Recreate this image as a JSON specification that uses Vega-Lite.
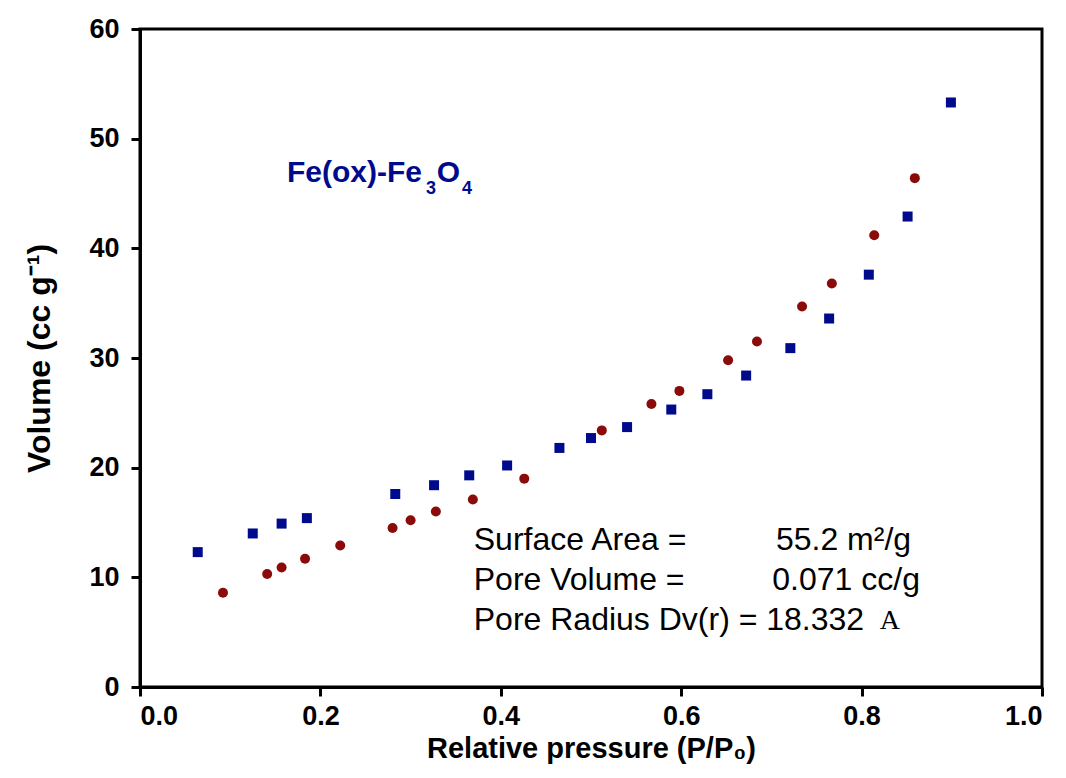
{
  "$schema": "https://vega.github.io/schema/vega-lite/v6.json",
  "width": 902,
  "height": 658,
  "autosize": {"type": "none"},
  "padding": {"left": 140, "top": 29, "right": 24, "bottom": 91},
  "background": "white",
  "config": {
    "view": {"stroke": "black", "strokeWidth": 3},
    "axis": {
      "domainColor": "black", "domainWidth": 3, "tickColor": "black", "tickWidth": 3, "tickSize": 9,
      "grid": false, "labelFont": "Liberation Sans", "labelFontWeight": "bold", "labelFontSize": 27, "labelColor": "black",
      "titleFont": "Liberation Sans", "titleFontWeight": "bold", "titleFontSize": 29, "titleColor": "black"
    }
  },
  "datasets": {
    "iso": [
      {"p": 0.064, "v": 12.3, "s": "ads"}, {"p": 0.125, "v": 14.0, "s": "ads"}, {"p": 0.157, "v": 14.9, "s": "ads"},
      {"p": 0.185, "v": 15.4, "s": "ads"}, {"p": 0.283, "v": 17.6, "s": "ads"}, {"p": 0.326, "v": 18.4, "s": "ads"},
      {"p": 0.365, "v": 19.3, "s": "ads"}, {"p": 0.407, "v": 20.2, "s": "ads"}, {"p": 0.465, "v": 21.8, "s": "ads"},
      {"p": 0.500, "v": 22.7, "s": "ads"}, {"p": 0.540, "v": 23.7, "s": "ads"}, {"p": 0.589, "v": 25.3, "s": "ads"},
      {"p": 0.629, "v": 26.7, "s": "ads"}, {"p": 0.672, "v": 28.4, "s": "ads"}, {"p": 0.721, "v": 30.9, "s": "ads"},
      {"p": 0.764, "v": 33.6, "s": "ads"}, {"p": 0.808, "v": 37.6, "s": "ads"}, {"p": 0.851, "v": 42.9, "s": "ads"},
      {"p": 0.899, "v": 53.3, "s": "ads"},
      {"p": 0.092, "v": 8.6, "s": "des"}, {"p": 0.141, "v": 10.3, "s": "des"}, {"p": 0.157, "v": 10.9, "s": "des"},
      {"p": 0.183, "v": 11.7, "s": "des"}, {"p": 0.222, "v": 12.9, "s": "des"}, {"p": 0.280, "v": 14.5, "s": "des"},
      {"p": 0.300, "v": 15.2, "s": "des"}, {"p": 0.328, "v": 16.0, "s": "des"}, {"p": 0.369, "v": 17.1, "s": "des"},
      {"p": 0.426, "v": 19.0, "s": "des"}, {"p": 0.512, "v": 23.4, "s": "des"}, {"p": 0.567, "v": 25.8, "s": "des"},
      {"p": 0.598, "v": 27.0, "s": "des"}, {"p": 0.652, "v": 29.8, "s": "des"}, {"p": 0.684, "v": 31.5, "s": "des"},
      {"p": 0.734, "v": 34.7, "s": "des"}, {"p": 0.767, "v": 36.8, "s": "des"}, {"p": 0.814, "v": 41.2, "s": "des"},
      {"p": 0.859, "v": 46.4, "s": "des"}
    ],
    "labels": [
      {"p": 0.37, "v": 13.4, "t": "Surface Area ="},
      {"p": 0.37, "v": 9.75, "t": "Pore Volume ="},
      {"p": 0.37, "v": 6.1, "t": "Pore Radius Dv(r) = 18.332"},
      {"p": 0.705, "v": 13.4, "t": "55.2 m²/g"},
      {"p": 0.701, "v": 9.75, "t": "0.071 cc/g"}
    ],
    "title_big": [
      {"p": 0.163, "v": 46.05, "t": "Fe(ox)-Fe"},
      {"p": 0.329, "v": 46.05, "t": "O"}
    ],
    "title_small": [
      {"p": 0.317, "v": 45.0, "t": "3"},
      {"p": 0.357, "v": 45.0, "t": "4"}
    ]
  },
  "layer": [
    {
      "data": {"name": "iso"},
      "transform": [{"filter": "datum.s === 'ads'"}],
      "mark": {"type": "square", "filled": true, "color": "#000a8c", "size": 100, "opacity": 1},
      "encoding": {
        "x": {"field": "p", "type": "quantitative", "scale": {"domain": [0, 1]},
              "axis": {"values": [0, 0.2, 0.4, 0.6, 0.8, 1.0], "format": ".1f", "title": "Relative pressure (P/P₀)", "titlePadding": 5, "labelPadding": 7}},
        "y": {"field": "v", "type": "quantitative", "scale": {"domain": [0, 60]},
              "axis": {"values": [0, 10, 20, 30, 40, 50, 60], "title": "Volume (cc g⁻¹)", "titleFontSize": 32, "titlePadding": 32, "labelPadding": 12}}
      }
    },
    {
      "data": {"name": "iso"},
      "transform": [{"filter": "datum.s === 'des'"}],
      "mark": {"type": "circle", "color": "#8b0a0a", "size": 100, "opacity": 1},
      "encoding": {
        "x": {"field": "p", "type": "quantitative"},
        "y": {"field": "v", "type": "quantitative"}
      }
    },
    {
      "data": {"name": "labels"},
      "mark": {"type": "text", "align": "left", "baseline": "middle", "font": "Liberation Sans", "fontSize": 32, "color": "black"},
      "encoding": {
        "x": {"field": "p", "type": "quantitative"},
        "y": {"field": "v", "type": "quantitative"},
        "text": {"field": "t"}
      }
    },
    {
      "data": {"values": [{"t": "A"}]},
      "mark": {"type": "text", "align": "left", "baseline": "middle", "font": "Liberation Serif", "fontSize": 28, "color": "black"},
      "encoding": {
        "x": {"datum": 0.82},
        "y": {"datum": 6.0},
        "text": {"field": "t"}
      }
    },
    {
      "data": {"name": "title_big"},
      "mark": {"type": "text", "align": "left", "baseline": "alphabetic", "font": "Liberation Sans", "fontWeight": "bold", "fontSize": 30, "color": "#000a8c"},
      "encoding": {
        "x": {"field": "p", "type": "quantitative"},
        "y": {"field": "v", "type": "quantitative"},
        "text": {"field": "t"}
      }
    },
    {
      "data": {"name": "title_small"},
      "mark": {"type": "text", "align": "left", "baseline": "alphabetic", "font": "Liberation Sans", "fontWeight": "bold", "fontSize": 18, "color": "#000a8c"},
      "encoding": {
        "x": {"field": "p", "type": "quantitative"},
        "y": {"field": "v", "type": "quantitative"},
        "text": {"field": "t"}
      }
    }
  ]
}
